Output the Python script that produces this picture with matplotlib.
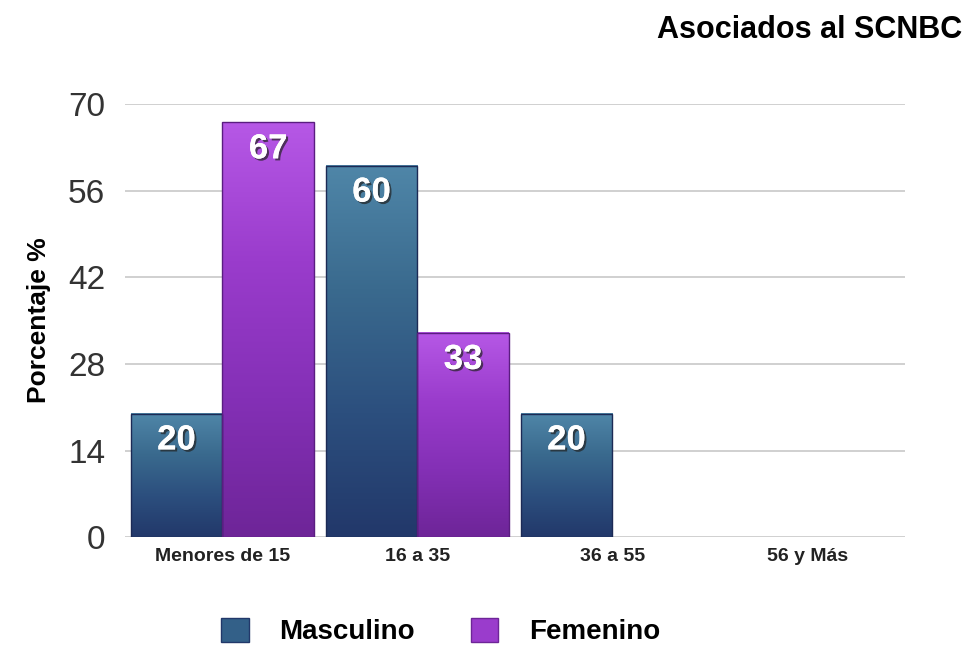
import numpy as np
import matplotlib
matplotlib.use("Agg")
import matplotlib.pyplot as plt
from matplotlib import colors
from matplotlib.patches import Patch
import matplotlib.patheffects as pe

# data
categorias = ["Menores de 15", "16 a 35", "36 a 55", "56 y Más"]
masculino = [20, 60, 20, 0]
femenino = [67, 33, 0, 0]
yticks = [0, 14, 28, 42, 56, 70]

titulo = "Asociados al SCNBC"
ylabel = "Porcentaje %"
series = ["Masculino", "Femenino"]

# colour ramps (top -> bottom)
cmap_m = colors.LinearSegmentedColormap.from_list("m", ["#4f86a8", "#3a6a8e", "#2c4f7e", "#22386a"])
cmap_f = colors.LinearSegmentedColormap.from_list("f", ["#b658e6", "#9a3ccc", "#8430b6", "#6e2598"])

plt.rcParams['font.family'] = ['Liberation Sans', 'DejaVu Sans']

fig = plt.figure(figsize=(9.75, 6.49), dpi=100)
ax = fig.add_axes([0.128, 0.172, 0.80, 0.668])

x = np.arange(len(categorias))
w = 0.47

for yv in yticks:
    ax.axhline(yv, color="#c8c8c8", lw=1.2, zorder=0)

grad = np.linspace(0, 1, 256).reshape(-1, 1)


def gradient_bar(xc, h, cmap, edge):
    if h <= 0:
        return
    x0, x1 = xc - w / 2, xc + w / 2
    ax.imshow(grad, cmap=cmap, extent=[x0, x1, 0, h], origin="upper",
              aspect="auto", zorder=2)
    ax.add_patch(plt.Rectangle((x0, 0), w, h, fill=False, ec=edge, lw=1.0, zorder=3))
    lab = ax.text(xc, h - 1.6, str(h), ha="center", va="top", color="white",
                  fontsize=25, fontweight="bold", zorder=4)
    lab.set_path_effects([pe.withSimplePatchShadow(offset=(1.5, -1.5), shadow_rgbFace="#222222", alpha=0.7),
                          pe.Normal()])


for i in range(len(categorias)):
    gradient_bar(x[i] - w / 2, masculino[i], cmap_m, "#1c2a55")
    gradient_bar(x[i] + w / 2, femenino[i], cmap_f, "#5a1d80")

ax.set_xlim(-0.5, len(categorias) - 0.5)
ax.set_ylim(0, 70)

ax.set_yticks(yticks)
ax.set_yticklabels([str(v) for v in yticks], fontsize=24, color="#333333")
ax.set_xticks(x)
ax.set_xticklabels(categorias, fontsize=14, fontweight="bold", color="#222222")
ax.tick_params(length=0)
ax.tick_params(axis="y", pad=14)
ax.tick_params(axis="x", pad=8)
for s in ax.spines.values():
    s.set_visible(False)

ax.set_ylabel(ylabel, fontsize=19, fontweight="bold", labelpad=12)

fig.text(0.987, 0.954, titulo, ha="right", va="center", fontsize=22, fontweight="bold")

# legend
handles = [Patch(facecolor="#336088", edgecolor="#22386a"), Patch(facecolor="#9a3ccc", edgecolor="#6e2598")]
fig.legend(handles, series, loc="center", bbox_to_anchor=(0.452, 0.027), ncol=2, frameon=False,
           prop={"size": 20, "weight": "bold"}, handlelength=1.0, handleheight=1.0,
           columnspacing=2.0, handletextpad=1.1)

fig.savefig("out.png", dpi=100)
